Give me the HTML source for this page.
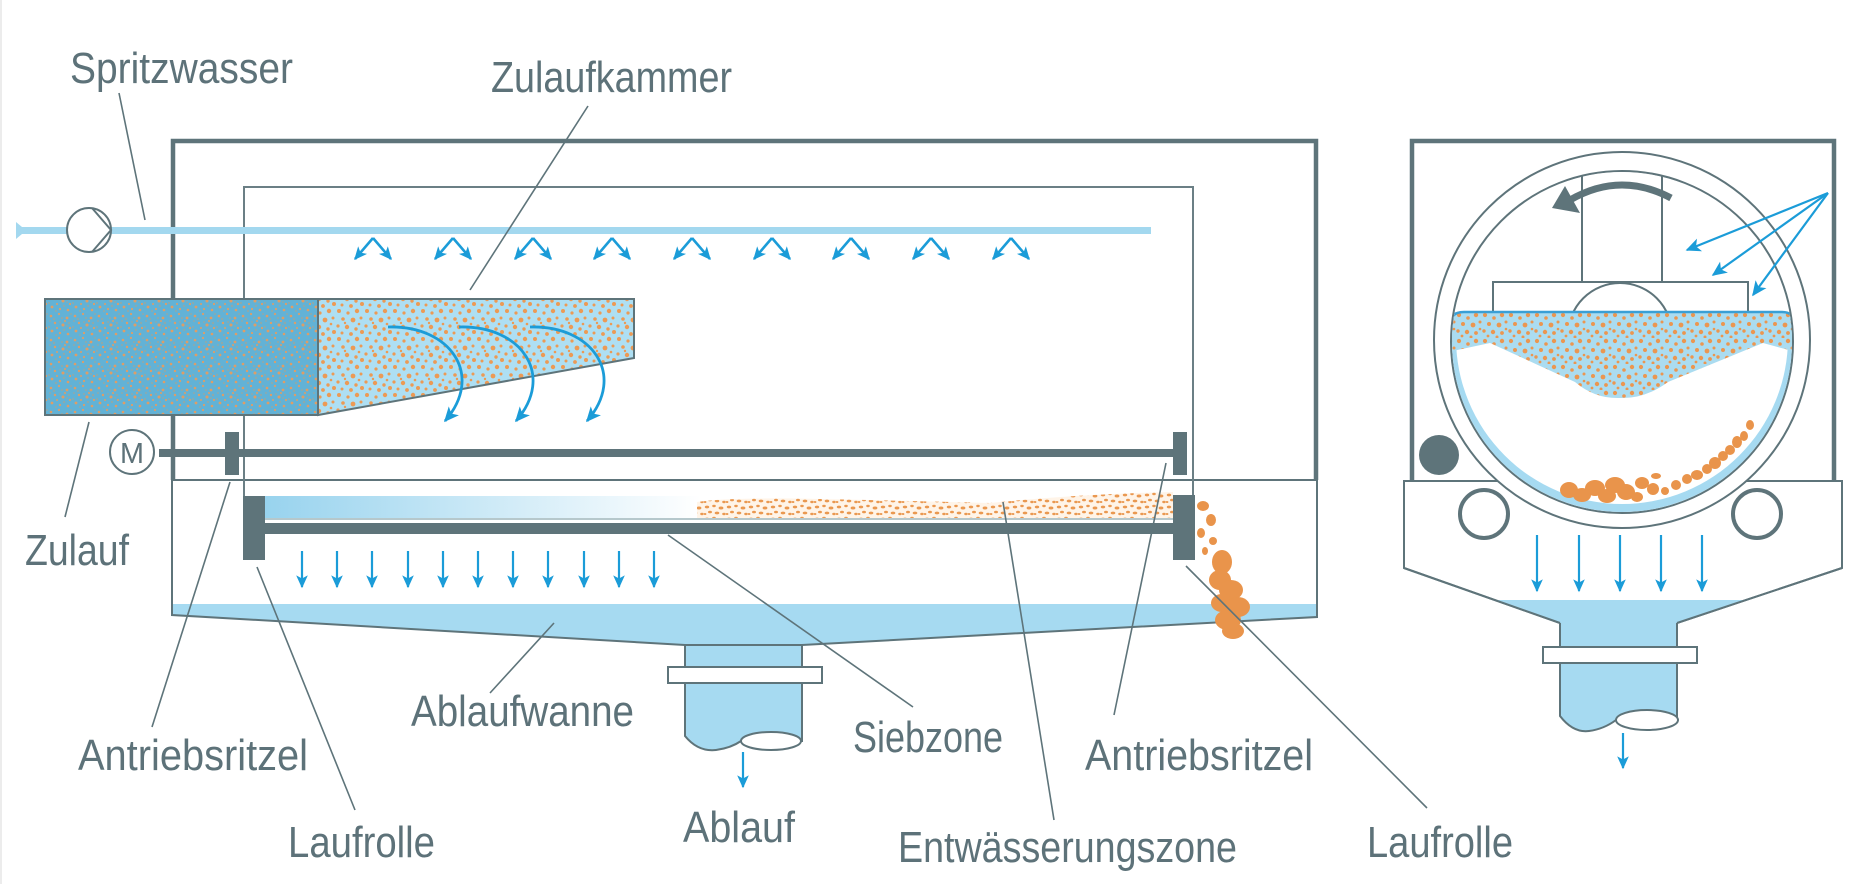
<!DOCTYPE html>
<html>
<head>
<meta charset="utf-8">
<style>
html,body{margin:0;padding:0;background:#fff;}
svg{display:block;}
text{font-family:"Liberation Sans Narrow","Liberation Sans",sans-serif;font-size:44px;fill:#5d7279;}
</style>
</head>
<body>
<svg width="1876" height="884" viewBox="0 0 1876 884" xmlns="http://www.w3.org/2000/svg">
<defs>
  <marker id="ah" viewBox="0 0 10 10" refX="9" refY="5" markerWidth="13" markerHeight="13" markerUnits="userSpaceOnUse" orient="auto">
    <path d="M0,0.5 L10,5 L0,9.5 L2.5,5 Z" fill="#1b9cd8"/>
  </marker>
  <marker id="ah2" viewBox="0 0 10 10" refX="9" refY="5" markerWidth="15" markerHeight="15" markerUnits="userSpaceOnUse" orient="auto">
    <path d="M0,0.5 L10,5 L0,9.5 L2.5,5 Z" fill="#1b9cd8"/>
  </marker>
  <pattern id="pA" width="24" height="24" patternUnits="userSpaceOnUse">
    <rect width="24" height="24" fill="#62b2d6"/>
    <g fill="#df9d66"><circle cx="3" cy="4" r="1.3"/><circle cx="11" cy="2" r="1.1"/><circle cx="19" cy="6" r="1.4"/><circle cx="7" cy="11" r="1.2"/><circle cx="15" cy="13" r="1.5"/><circle cx="22" cy="16" r="1.1"/><circle cx="4" cy="19" r="1.4"/><circle cx="12" cy="21" r="1.1"/><circle cx="20" cy="22" r="1.3"/><circle cx="9" cy="16" r="1"/><circle cx="17" cy="9" r="1"/></g>
    <g fill="#8fa9aa"><circle cx="6" cy="7" r="1.2"/><circle cx="14" cy="6" r="1.1"/><circle cx="21" cy="11" r="1.2"/><circle cx="1" cy="15" r="1.1"/><circle cx="16" cy="18" r="1.2"/><circle cx="8" cy="23" r="1.1"/><circle cx="12" cy="10" r="1"/><circle cx="23" cy="2" r="1"/><circle cx="2" cy="9" r="1"/><circle cx="19" cy="14" r="1"/></g>
  </pattern>
  <pattern id="pB" width="28" height="28" patternUnits="userSpaceOnUse">
    <rect width="28" height="28" fill="#aedff3"/>
    <g fill="#ec9a55"><circle cx="3" cy="3" r="2"/><circle cx="12" cy="5" r="1.6"/><circle cx="21" cy="3" r="2.2"/><circle cx="7" cy="11" r="1.8"/><circle cx="17" cy="12" r="2.4"/><circle cx="25" cy="10" r="1.5"/><circle cx="2" cy="18" r="1.6"/><circle cx="11" cy="19" r="2.2"/><circle cx="20" cy="21" r="1.7"/><circle cx="26" cy="24" r="2"/><circle cx="6" cy="25" r="1.5"/><circle cx="15" cy="26" r="1.9"/><circle cx="23" cy="16" r="1.3"/><circle cx="9" cy="15" r="1.2"/></g>
  </pattern>
  <pattern id="pC" width="22" height="12" patternUnits="userSpaceOnUse">
    <rect width="22" height="12" fill="#fff4e8"/>
    <g fill="#ea9850"><ellipse cx="3" cy="3" rx="2.2" ry="1.4"/><ellipse cx="10" cy="2" rx="1.8" ry="1.2"/><ellipse cx="17" cy="4" rx="2.4" ry="1.5"/><ellipse cx="6" cy="8" rx="2" ry="1.3"/><ellipse cx="13" cy="9" rx="2.3" ry="1.4"/><ellipse cx="20" cy="10" rx="1.8" ry="1.2"/><ellipse cx="1" cy="10" rx="1.4" ry="1"/></g>
  </pattern>
  <pattern id="pD" width="26" height="26" patternUnits="userSpaceOnUse">
    <rect width="26" height="26" fill="#abdcf0"/>
    <g fill="#eb9650"><circle cx="3" cy="3" r="2.1"/><circle cx="12" cy="6" r="1.8"/><circle cx="20" cy="3" r="2.2"/><circle cx="7" cy="12" r="2"/><circle cx="17" cy="13" r="2.4"/><circle cx="24" cy="10" r="1.5"/><circle cx="2" cy="19" r="1.7"/><circle cx="11" cy="20" r="2.2"/><circle cx="20" cy="21" r="1.9"/><circle cx="6" cy="24" r="1.4"/><circle cx="15" cy="25" r="1.5"/><circle cx="24" cy="17" r="1.3"/></g>
  </pattern>
  <linearGradient id="gB" x1="265" y1="0" x2="1173" y2="0" gradientUnits="userSpaceOnUse">
    <stop offset="0" stop-color="#98d3ee"/>
    <stop offset="0.48" stop-color="#ffffff"/>
    <stop offset="1" stop-color="#ffffff"/>
  </linearGradient>
  <clipPath id="drum"><circle cx="1622" cy="342" r="170"/></clipPath>
</defs>

<rect x="0" y="0" width="2" height="884" fill="#ececec"/>

<!-- ================= LEFT VIEW ================= -->
<polygon points="172,604 1317,604 1317,617 802,645 685,645 172,615" fill="#a6daf1"/>
<path d="M685,645 V736 Q698,752 716,750 Q731,748 741,741 H802 V645" fill="#a6daf1" stroke="#5e747a" stroke-width="2"/>
<ellipse cx="771" cy="741" rx="30" ry="9" fill="#fff" stroke="#5e747a" stroke-width="2"/>
<rect x="668" y="667" width="154" height="16" fill="#fff" stroke="#5e747a" stroke-width="2"/>
<path d="M172,480 V615 L685,645 H802 L1317,617 V480 Z" fill="none" stroke="#5e747a" stroke-width="2"/>
<path d="M173,480 V141 H1316 V480" fill="none" stroke="#5e747a" stroke-width="4.5"/>
<path d="M244,497 V187 H1193 V495" fill="none" stroke="#6b7f85" stroke-width="2"/>

<rect x="20" y="227" width="1131" height="7" fill="#a3d8ef"/>
<polygon points="16,222 22,227 22,234 16,239" fill="#a3d8ef"/>
<circle cx="89" cy="230" r="22" fill="#fff" stroke="#5e747a" stroke-width="2"/>
<polyline points="92,208 111,230 92,252" fill="none" stroke="#5e747a" stroke-width="2"/>

<g stroke="#1b9cd8" stroke-width="2.6" fill="none">
  <path d="M373,238 L355,259" marker-end="url(#ah)"/><path d="M373,238 L391,259" marker-end="url(#ah)"/>
  <path d="M453,238 L435,259" marker-end="url(#ah)"/><path d="M453,238 L471,259" marker-end="url(#ah)"/>
  <path d="M533,238 L515,259" marker-end="url(#ah)"/><path d="M533,238 L551,259" marker-end="url(#ah)"/>
  <path d="M612,238 L594,259" marker-end="url(#ah)"/><path d="M612,238 L630,259" marker-end="url(#ah)"/>
  <path d="M692,238 L674,259" marker-end="url(#ah)"/><path d="M692,238 L710,259" marker-end="url(#ah)"/>
  <path d="M772,238 L754,259" marker-end="url(#ah)"/><path d="M772,238 L790,259" marker-end="url(#ah)"/>
  <path d="M851,238 L833,259" marker-end="url(#ah)"/><path d="M851,238 L869,259" marker-end="url(#ah)"/>
  <path d="M931,238 L913,259" marker-end="url(#ah)"/><path d="M931,238 L949,259" marker-end="url(#ah)"/>
  <path d="M1011,238 L993,259" marker-end="url(#ah)"/><path d="M1011,238 L1029,259" marker-end="url(#ah)"/>
</g>

<rect x="45" y="299" width="273" height="116" fill="url(#pA)" stroke="#5e747a" stroke-width="2"/>
<polygon points="318,299 634,299 634,358 318,415" fill="url(#pB)" stroke="#5e747a" stroke-width="2"/>
<g stroke="#1b9cd8" stroke-width="2.8" fill="none">
  <path d="M388,327 C450,325 485,375 445,421" marker-end="url(#ah2)"/>
  <path d="M459,327 C521,325 556,375 516,421" marker-end="url(#ah2)"/>
  <path d="M530,327 C592,325 627,375 587,421" marker-end="url(#ah2)"/>
</g>

<circle cx="132" cy="452" r="22" fill="#fff" stroke="#5e747a" stroke-width="2"/>
<text x="132" y="463" text-anchor="middle" style="font-size:29px" textLength="24" lengthAdjust="spacingAndGlyphs">M</text>
<rect x="159" y="449" width="1014" height="8" fill="#5e747a"/>
<rect x="225" y="432" width="14" height="43" fill="#5e747a"/>
<rect x="1173" y="432" width="14" height="43" fill="#5e747a"/>

<rect x="265" y="496" width="908" height="22" fill="url(#gB)"/>
<path d="M697,518 L697,502 Q730,497 820,499 Q920,501 990,503 Q1080,494 1173,492 L1173,518 Z" fill="url(#pC)"/>
<rect x="265" y="518" width="908" height="2" fill="#b6c8cc"/>
<rect x="265" y="523" width="908" height="11" fill="#5e747a"/>
<rect x="243" y="496" width="22" height="64" fill="#5e747a"/>
<rect x="1173" y="495" width="22" height="65" fill="#5e747a"/>

<g stroke="#1b9cd8" stroke-width="2.2" fill="none">
  <path d="M302,551 V587" marker-end="url(#ah)"/>
  <path d="M337,551 V587" marker-end="url(#ah)"/>
  <path d="M372,551 V587" marker-end="url(#ah)"/>
  <path d="M408,551 V587" marker-end="url(#ah)"/>
  <path d="M443,551 V587" marker-end="url(#ah)"/>
  <path d="M478,551 V587" marker-end="url(#ah)"/>
  <path d="M513,551 V587" marker-end="url(#ah)"/>
  <path d="M548,551 V587" marker-end="url(#ah)"/>
  <path d="M584,551 V587" marker-end="url(#ah)"/>
  <path d="M619,551 V587" marker-end="url(#ah)"/>
  <path d="M654,551 V587" marker-end="url(#ah)"/>
  <path d="M743,752 V787" marker-end="url(#ah)"/>
</g>

<g fill="#e9944b">
  <ellipse cx="1203" cy="506" rx="6" ry="5"/>
  <ellipse cx="1211" cy="520" rx="5" ry="6"/>
  <ellipse cx="1201" cy="533" rx="4" ry="5"/>
  <ellipse cx="1213" cy="541" rx="4" ry="4"/>
  <ellipse cx="1205" cy="551" rx="3" ry="4"/>
  <ellipse cx="1222" cy="562" rx="10" ry="12"/>
  <ellipse cx="1220" cy="580" rx="11" ry="10"/>
  <ellipse cx="1231" cy="590" rx="12" ry="10"/>
  <ellipse cx="1222" cy="603" rx="11" ry="9"/>
  <ellipse cx="1238" cy="607" rx="12" ry="10"/>
  <ellipse cx="1228" cy="620" rx="13" ry="10"/>
  <ellipse cx="1233" cy="631" rx="11" ry="8"/>
</g>

<!-- ================= RIGHT VIEW ================= -->
<path d="M1404,481 H1842 V568 L1677,623 H1560 L1404,568 Z" fill="#fff" stroke="#5e747a" stroke-width="2"/>
<polygon points="1495,600 1746,600 1677,623 1560,623" fill="#a6daf1"/>
<path d="M1404,568 L1560,623 M1842,568 L1677,623" stroke="#5e747a" stroke-width="2"/>
<path d="M1560,623 V716 Q1573,733 1589,731 Q1604,729 1616,720 H1677 V623" fill="#a6daf1" stroke="#5e747a" stroke-width="2"/>
<ellipse cx="1647" cy="720" rx="31" ry="10" fill="#fff" stroke="#5e747a" stroke-width="2"/>
<rect x="1543" y="647" width="154" height="16" fill="#fff" stroke="#5e747a" stroke-width="2"/>
<path d="M1623,733 V768" stroke="#1b9cd8" stroke-width="2.2" marker-end="url(#ah)"/>
<circle cx="1484" cy="514" r="24" fill="#fff" stroke="#5e747a" stroke-width="4"/>
<circle cx="1757" cy="514" r="24" fill="#fff" stroke="#5e747a" stroke-width="4"/>
<path d="M1412,481 V141 H1834 V481" fill="none" stroke="#5e747a" stroke-width="4.5"/>
<circle cx="1439" cy="455" r="20" fill="#5e747a"/>
<circle cx="1622" cy="340" r="188" fill="#fff" stroke="#5e747a" stroke-width="2"/>
<circle cx="1622" cy="342" r="171" fill="#fff" stroke="#5e747a" stroke-width="2"/>
<g clip-path="url(#drum)">
  <rect x="1440" y="312" width="370" height="220" fill="#a6daf1"/>
  <circle cx="1622" cy="338" r="166" fill="#fff"/>
  <rect x="1440" y="312" width="370" height="30" fill="#a6daf1"/>
</g>
<path d="M1582,176 V282 M1662,176 V282" stroke="#5e747a" stroke-width="2"/>
<rect x="1493" y="282" width="255" height="40" fill="#fff" stroke="#5e747a" stroke-width="2"/>
<circle cx="1620" cy="335" r="52" fill="#fff" stroke="#5e747a" stroke-width="2"/>
<g clip-path="url(#drum)">
  <path d="M1448,318 Q1452,312 1462,312 L1784,312 Q1794,312 1796,320 L1796,352 L1763,343 L1668,382 Q1645,399 1620,398 Q1595,399 1575,382 L1490,343 L1448,352 Z" fill="url(#pD)"/>
  <path d="M1450,322 Q1452,312 1464,312 L1782,312 Q1793,312 1795,322" fill="none" stroke="#3a9fd5" stroke-width="2.5"/>
</g>
<g fill="#e9944b">
  <ellipse cx="1569" cy="490" rx="9" ry="8"/>
  <ellipse cx="1582" cy="495" rx="9" ry="7"/>
  <ellipse cx="1595" cy="488" rx="10" ry="8"/>
  <ellipse cx="1607" cy="496" rx="9" ry="7"/>
  <ellipse cx="1615" cy="485" rx="10" ry="8"/>
  <ellipse cx="1626" cy="492" rx="9" ry="8"/>
  <ellipse cx="1637" cy="497" rx="6" ry="5"/>
  <ellipse cx="1642" cy="483" rx="7" ry="6"/>
  <ellipse cx="1653" cy="489" rx="6" ry="6"/>
  <ellipse cx="1656" cy="476" rx="5" ry="3"/>
  <ellipse cx="1665" cy="491" rx="4" ry="4"/>
  <ellipse cx="1676" cy="485" rx="5" ry="5"/>
  <ellipse cx="1687" cy="479" rx="5" ry="5"/>
  <ellipse cx="1697" cy="475" rx="6" ry="5"/>
  <ellipse cx="1707" cy="469" rx="5" ry="5"/>
  <ellipse cx="1715" cy="463" rx="6" ry="6"/>
  <ellipse cx="1723" cy="456" rx="5" ry="5"/>
  <ellipse cx="1730" cy="450" rx="5" ry="5"/>
  <ellipse cx="1737" cy="442" rx="5" ry="6"/>
  <ellipse cx="1744" cy="436" rx="4" ry="5"/>
  <ellipse cx="1750" cy="425" rx="4" ry="5"/>
</g>
<path d="M1671,198 Q1620,171 1570,200" fill="none" stroke="#5e747a" stroke-width="7"/>
<polygon points="1552,208 1565,186 1580,213" fill="#5e747a"/>
<g stroke="#1b9cd8" stroke-width="2.2" fill="none">
  <path d="M1828,193 L1687,250" marker-end="url(#ah2)"/>
  <path d="M1828,193 L1713,275" marker-end="url(#ah2)"/>
  <path d="M1828,193 L1753,295" marker-end="url(#ah2)"/>
</g>
<g stroke="#1b9cd8" stroke-width="2.2" fill="none">
  <path d="M1537,535 V591" marker-end="url(#ah)"/>
  <path d="M1579,535 V591" marker-end="url(#ah)"/>
  <path d="M1620,535 V591" marker-end="url(#ah)"/>
  <path d="M1661,535 V591" marker-end="url(#ah)"/>
  <path d="M1702,535 V591" marker-end="url(#ah)"/>
</g>

<!-- ================= LEADERS ================= -->
<g stroke="#5e747a" stroke-width="1.6" fill="none">
  <path d="M119,93 L145,220"/>
  <path d="M588,106 L470,290"/>
  <path d="M89,422 L65,517"/>
  <path d="M152,727 L230,482"/>
  <path d="M355,810 L257,567"/>
  <path d="M490,693 L554,623"/>
  <path d="M913,707 L668,535"/>
  <path d="M1054,820 L1003,502"/>
  <path d="M1114,715 L1166,463"/>
  <path d="M1427,808 L1186,566"/>
</g>

<!-- ================= LABELS ================= -->
<text x="70" y="83" textLength="223" lengthAdjust="spacingAndGlyphs">Spritzwasser</text>
<text x="491" y="92" textLength="241" lengthAdjust="spacingAndGlyphs">Zulaufkammer</text>
<text x="25" y="565" textLength="104" lengthAdjust="spacingAndGlyphs">Zulauf</text>
<text x="78" y="770" textLength="230" lengthAdjust="spacingAndGlyphs">Antriebsritzel</text>
<text x="288" y="857" textLength="147" lengthAdjust="spacingAndGlyphs">Laufrolle</text>
<text x="411" y="726" textLength="223" lengthAdjust="spacingAndGlyphs">Ablaufwanne</text>
<text x="683" y="842" textLength="112" lengthAdjust="spacingAndGlyphs">Ablauf</text>
<text x="853" y="752" textLength="150" lengthAdjust="spacingAndGlyphs">Siebzone</text>
<text x="898" y="862" textLength="339" lengthAdjust="spacingAndGlyphs">Entwässerungszone</text>
<text x="1085" y="770" textLength="228" lengthAdjust="spacingAndGlyphs">Antriebsritzel</text>
<text x="1367" y="857" textLength="146" lengthAdjust="spacingAndGlyphs">Laufrolle</text>
</svg>
</body>
</html>
